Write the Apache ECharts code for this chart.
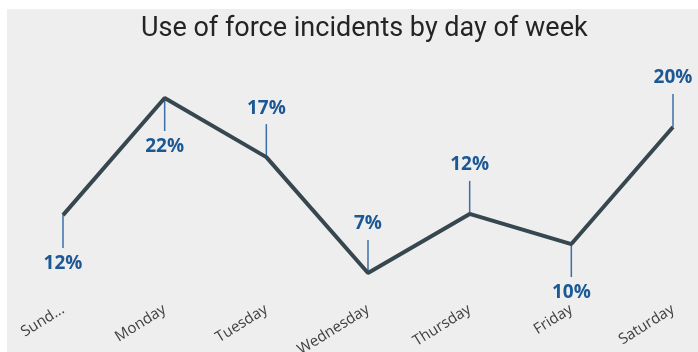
<!DOCTYPE html>
<html>
<head>
<meta charset="utf-8">
<script src="https://cdn.jsdelivr.net/npm/echarts@6/dist/echarts.min.js"></script>
<style>
  html, body { margin: 0; padding: 0; background: #ffffff; }
  #chart { width: 698px; height: 352px; }
</style>
</head>
<body>
<div id="chart"></div>
<script>
// days of week and share of incidents (%)
const days = ['Sunday', 'Monday', 'Tuesday', 'Wednesday', 'Thursday', 'Friday', 'Saturday']
const tickLabels = ['Sund...', 'Monday', 'Tuesday', 'Wednesday', 'Thursday', 'Friday', 'Saturday']
const shares = [12.0, 22.1, 17.0, 7.0, 12.1, 9.5, 19.6]

// which side each data label sits on (1 = below, -1 = above)
const labelSide = [1, 1, -1, -1, -1, 1, -1]

const myChart = echarts.init(document.getElementById('chart'))

const option = {
  animation: false,
  backgroundColor: '#ffffff',
  graphic: [{
    type: 'rect',
    z: -10,
    silent: true,
    shape: { x: 7, y: 9, width: 691, height: 343 },
    style: { fill: '#eeeeee' }
  }],
  title: {
    text: 'Use of force incidents by day of week',
    left: 136,
    top: 11,
    textStyle: {
      fontFamily: 'Roboto',
      fontSize: 27,
      fontWeight: 'normal',
      color: '#252423'
    }
  },
  grid: {
    left: 63,
    right: 25,
    top: 64.4,
    bottom: 55.8,
    outerBoundsMode: 'none'
  },
  xAxis: {
    type: 'category',
    data: days,
    boundaryGap: false,
    axisLine: { show: false },
    axisTick: { show: false },
    axisLabel: {
      rotate: 32,
      margin: 12,
      interval: 0,
      fontFamily: 'Open Sans',
      fontSize: 15,
      color: '#404040',
      formatter: (value, idx) => tickLabels[idx]
    }
  },
  yAxis: {
    type: 'value',
    min: 5,
    max: 25,
    show: false,
    splitLine: { show: false }
  },
  series: [
    {
      type: 'line',
      data: shares,
      symbol: 'none',
      lineStyle: { color: '#37474f', width: 4 },
      z: 3
    },
    {
      // leader lines and percentage labels
      type: 'custom',
      data: shares.map((v, i) => [i, v]),
      z: 2,
      renderItem: function (params, api) {
        const i = api.value(0)
        const pt = api.coord([i, api.value(1)])
        const side = labelSide[params.dataIndex]
        return {
          type: 'group',
          children: [
            {
              type: 'line',
              shape: { x1: pt[0], y1: pt[1], x2: pt[0], y2: pt[1] + side * 33 },
              style: { stroke: '#3a6fa5', lineWidth: 1.5 }
            },
            {
              type: 'text',
              x: pt[0],
              y: pt[1] + side * 49,
              style: {
                text: Math.round(api.value(1)) + '%',
                align: 'center',
                verticalAlign: 'middle',
                fontFamily: 'Open Sans',
                fontWeight: 'bold',
                fontSize: 19,
                fill: '#1c5894'
              }
            }
          ]
        }
      }
    }
  ]
}

myChart.setOption(option)
</script>
</body>
</html>
